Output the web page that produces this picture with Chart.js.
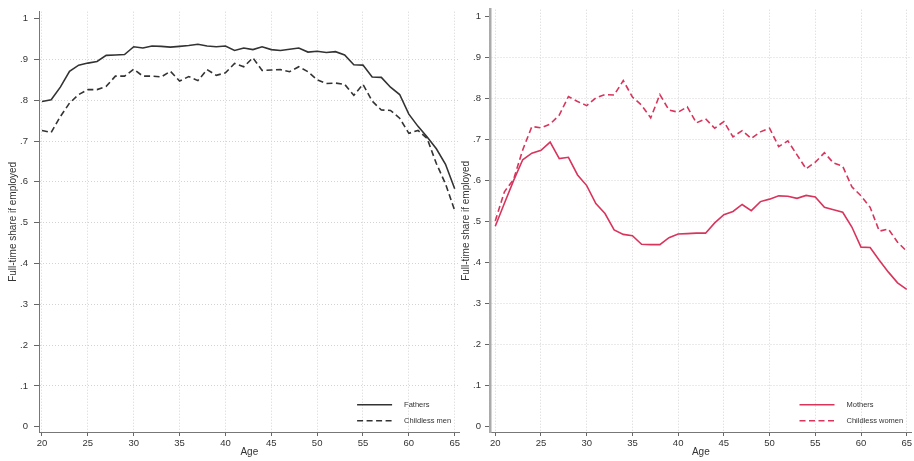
<!DOCTYPE html>
<html><head><meta charset="utf-8">
<script src="https://cdn.jsdelivr.net/npm/chart.js@4"></script>
<style>
html,body{margin:0;padding:0;background:#fff;width:914px;height:461px;overflow:hidden;}
#wrapL{position:absolute;left:0;top:0;width:462px;height:461px;}
#wrapR{position:absolute;left:455px;top:0;width:459px;height:461px;}
canvas{display:block;}
</style></head><body>
<div id="wrapL"><canvas id="cL" width="462" height="461" style="width:462px;height:461px"></canvas></div>
<div id="wrapR"><canvas id="cR" width="459" height="461" style="width:459px;height:461px"></canvas></div>
<script>
const ages = [20,21,22,23,24,25,26,27,28,29,30,31,32,33,34,35,36,37,38,39,40,41,42,43,44,45,46,47,48,49,50,51,52,53,54,55,56,57,58,59,60,61,62,63,64,65];
const fathers = [0.797,0.801,0.832,0.871,0.886,0.891,0.895,0.910,0.911,0.912,
  0.931,0.928,0.933,0.932,0.930,0.932,0.934,0.937,0.933,0.931,
  0.933,0.922,0.928,0.924,0.931,0.924,0.922,0.925,0.928,0.918,
  0.920,0.917,0.919,0.911,0.887,0.886,0.857,0.856,0.832,0.814,
  0.766,0.736,0.710,0.681,0.643,0.583];
const childlessMen = [0.726,0.721,0.760,0.793,0.814,0.826,0.826,0.834,0.859,0.859,
  0.876,0.859,0.859,0.857,0.871,0.847,0.858,0.848,0.875,0.861,
  0.867,0.890,0.882,0.904,0.873,0.874,0.875,0.870,0.882,0.870,
  0.850,0.841,0.842,0.839,0.812,0.839,0.798,0.776,0.775,0.756,
  0.719,0.726,0.706,0.645,0.595,0.530];
const mothers = [0.489,0.545,0.600,0.651,0.667,0.674,0.694,0.654,0.657,0.614,
  0.588,0.544,0.520,0.480,0.469,0.466,0.445,0.444,0.444,0.461,
  0.470,0.471,0.472,0.472,0.497,0.517,0.525,0.542,0.527,0.549,
  0.555,0.563,0.562,0.557,0.564,0.560,0.535,0.529,0.523,0.487,
  0.438,0.437,0.406,0.377,0.351,0.335];
const childlessWomen = [0.502,0.573,0.603,0.675,0.732,0.729,0.738,0.760,0.805,0.793,
  0.783,0.802,0.810,0.809,0.844,0.804,0.784,0.753,0.810,0.772,
  0.767,0.780,0.741,0.751,0.728,0.744,0.707,0.722,0.703,0.719,
  0.728,0.683,0.697,0.663,0.629,0.645,0.668,0.643,0.635,0.585,
  0.563,0.535,0.477,0.482,0.450,0.428];
const xTicks = [20,25,30,35,40,45,50,55,60,65];
const yTicks = [0,0.1,0.2,0.3,0.4,0.5,0.6,0.7,0.8,0.9,1];
const yTickLabels = ['0','.1','.2','.3','.4','.5','.6','.7','.8','.9','1'];
const seriesNames = ['Fathers','Childless men','Mothers','Childless women'];
const xTitle = 'Age';
const yTitle = 'Full-time share if employed';

Chart.defaults.font.family = '"Liberation Sans", Arial, sans-serif';
Chart.defaults.color = '#333';

const toPts = arr => ages.map((a,i)=>({x:a, y:arr[i]}));
const gridColor = '#d4d4d4';

const legendPlugin = {
  id:'customLegend',
  afterDatasetsDraw(chart){
    const {ctx, chartArea} = chart;
    ctx.save();
    ctx.font = '7.5px "Liberation Sans", Arial, sans-serif';
    const ds = chart.data.datasets;
    const maxW = Math.max(...ds.map(d=>ctx.measureText(d.label).width));
    const textX = chartArea.right - 8.5 - maxW;
    const x2 = textX - 12, x1 = x2 - 35;
    ds.forEach((d,i)=>{
      const y = chartArea.bottom - 27.3 + i*16;
      ctx.strokeStyle = d.borderColor; ctx.lineWidth = d.borderWidth;
      ctx.setLineDash(d.borderDash || []);
      ctx.beginPath(); ctx.moveTo(x1,y); ctx.lineTo(x2,y); ctx.stroke();
      ctx.setLineDash([]);
      ctx.fillStyle = '#333'; ctx.textBaseline = 'middle'; ctx.textAlign = 'left';
      ctx.fillText(d.label, textX, y);
    });
    ctx.restore();
  }
};

function makeChart(id, dA, dB, nameA, nameB, color, o){
  return new Chart(document.getElementById(id), {
    type:'line',
    data:{datasets:[
      {label:nameA, data:toPts(dA), borderColor:color, borderWidth:1.6, pointRadius:0, tension:0, fill:false},
      {label:nameB, data:toPts(dB), borderColor:color, borderWidth:1.6, borderDash:[6,3.5], pointRadius:0, tension:0, fill:false}
    ]},
    options:{
      responsive:false, animation:false, devicePixelRatio:1,
      layout:{padding:{top:5,left:0,right:o.padRight,bottom:3}},
      plugins:{legend:{display:false}, tooltip:{enabled:false}},
      scales:{
        x:{type:'linear', min:o.xMin, max:o.xMax,
          afterBuildTicks:s=>{s.ticks = xTicks.map(v=>({value:v}));},
          afterFit:s=>{s.height = 26;},
          ticks:{font:{size:9.5}, color:'#333', padding:2, maxRotation:0, autoSkip:false, callback:v=>String(v)},
          grid:{color:gridColor, lineWidth:1, tickLength:4, tickColor:'#666', drawTicks:true},
          border:{display:true, color:'#777', width:1, dash:[1,2]},
          title:{display:true, text:xTitle, font:{size:10}, color:'#333', padding:{top:0,bottom:0}}
        },
        y:{type:'linear', min:-0.0128, max:1.0169,
          afterBuildTicks:s=>{s.ticks = yTicks.map(v=>({value:v}));},
          afterFit:s=>{s.width = o.yW;},
          ticks:{font:{size:9.5}, color:'#333', padding:o.yPad, callback:(v,i)=>yTickLabels[i]},
          grid:{color:c=>(c.tick && (c.tick.value===0 || c.tick.value===1)) ? 'rgba(0,0,0,0)' : gridColor,
                lineWidth:1, tickLength:5, tickColor:'#666', drawTicks:true},
          border:{display:true, color:o.yBorderColor, width:o.yBorderW, dash:[1,2]},
          title:{display:true, text:yTitle, font:{size:10}, color:'#333', padding:{top:o.yTitlePad,bottom:0}}
        }
      }
    },
    plugins:[legendPlugin]
  });
}

makeChart('cL', fathers, childlessMen, seriesNames[0], seriesNames[1], '#333333',
  {xMin:19.673, xMax:65.545, padRight:2, yW:39, yPad:6, yTitlePad:7.5, yBorderColor:'#777', yBorderW:1});
makeChart('cR', mothers, childlessWomen, seriesNames[2], seriesNames[3], 'rgb(216,52,92)',
  {xMin:19.423, xMax:65.544, padRight:0, yW:35, yPad:4, yTitlePad:5.5, yBorderColor:'#aaa', yBorderW:2.5});
</script>
</body></html>
